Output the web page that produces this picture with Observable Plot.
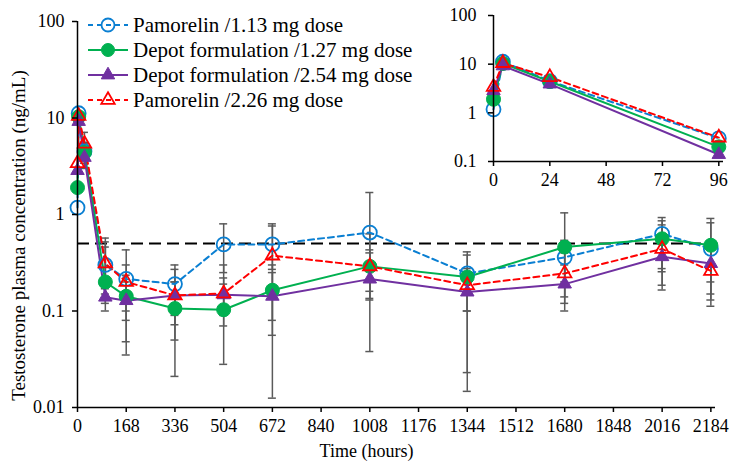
<!DOCTYPE html>
<html><head><meta charset="utf-8">
<script src="https://cdn.jsdelivr.net/npm/d3@7"></script>
<script src="https://cdn.jsdelivr.net/npm/@observablehq/plot@0.6"></script>
<style>
body{margin:0;background:#fff;}
#wrap{position:relative;width:736px;height:470px;font-family:"Liberation Serif","Times New Roman",serif;}
#wrap > svg{position:absolute;}
</style></head><body><div id="wrap"></div>
<script>
// ---- data ----
const times = [0, 4, 24, 96, 168, 336, 504, 672, 1008, 1344, 1680, 2016, 2184];
const pam113   = [1.18, 11.2, 4.5, 0.30, 0.215, 0.19, 0.49, 0.49, 0.65, 0.245, 0.36, 0.63, 0.44];
const depot127 = [1.9, 10.3, 4.4, 0.20, 0.142, 0.106, 0.103, 0.164, 0.29, 0.225, 0.46, 0.56, 0.48];
const depot254 = [2.85, 9.2, 3.9, 0.139, 0.128, 0.145, 0.147, 0.142, 0.214, 0.157, 0.19, 0.365, 0.31];
const pam226   = [3.4, 10.5, 5.4, 0.31, 0.20, 0.145, 0.152, 0.375, 0.29, 0.185, 0.245, 0.44, 0.26];

const errTimes = [24, 96, 168, 336, 504, 672, 1008, 1344, 1680, 2016, 2184];
const pam113Lo   = [3.6, 0.15, 0.035, 0.021, 0.25, 0.27, 0.135, 0.10, 0.20, 0.275, 0.20];
const pam113Hi   = [5.6, 0.57, 0.43, 0.30, 0.80, 0.80, 1.69, 0.41, 0.54, 0.93, 0.82];
const depot127Lo = [3.4, 0.12, 0.048, 0.05, 0.028, 0.0125, 0.038, 0.0147, 0.10, 0.165, 0.112];
const depot127Hi = [5.4, 0.46, 0.235, 0.20, 0.19, 0.30, 0.40, 0.38, 1.04, 0.86, 0.91];
const depot254Lo = [3.0, 0.10, 0.08, 0.09, 0.09, 0.08, 0.13, 0.10, 0.12, 0.255, 0.15];
const depot254Hi = [4.8, 0.20, 0.20, 0.20, 0.22, 0.25, 0.63, 0.25, 0.30, 0.60, 0.50];
const pam226Lo   = [4.2, 0.17, 0.10, 0.072, 0.07, 0.056, 0.16, 0.023, 0.14, 0.185, 0.13];
const pam226Hi   = [7.1, 0.52, 0.30, 0.27, 0.30, 0.76, 0.43, 0.275, 0.40, 0.78, 0.50];

const seriesNames = ["Pamorelin /1.13 mg dose", "Depot formulation /1.27 mg dose", "Depot formulation /2.54 mg dose", "Pamorelin /2.26 mg dose"];
const seriesValues = [pam113, depot127, depot254, pam226];
const seriesLo = [pam113Lo, depot127Lo, depot254Lo, pam226Lo];
const seriesHi = [pam113Hi, depot127Hi, depot254Hi, pam226Hi];
const seriesColors = ["#0a7fd2", "#00b050", "#7030a0", "#ff0000"];
const seriesDash = ["6,4", null, null, "6,4"];
const seriesSymbol = ["circle", "circle", "triangle", "triangle"];
const seriesFilled = [false, true, true, false];

const xTicks = [0, 168, 336, 504, 672, 840, 1008, 1176, 1344, 1512, 1680, 1848, 2016, 2184];
const yTicks = [0.01, 0.1, 1, 10, 100];
const insetXTicks = [0, 24, 48, 72, 96];
const insetYTicks = [0.1, 1, 10, 100];
const insetMaxTime = 96;
const refLevel = 0.5;
const xTitle = "Time (hours)";
const yTitle = "Testosterone plasma concentration (ng/mL)";

// ---- build tables ----
const rows = seriesValues.flatMap((vals, s) => times.map((t, i) => ({s, t, v: vals[i]})));
const errRows = seriesValues.flatMap((_, s) => errTimes.map((t, i) => ({s, t, lo: seriesLo[s][i], hi: seriesHi[s][i]})));

function seriesMarks(data, rDot, rTri) {
  const marks = [];
  seriesNames.forEach((_, s) => {
    const d = data.filter(r => r.s === s);
    marks.push(Plot.line(d, {x: "t", y: "v", stroke: seriesColors[s], strokeWidth: 2, strokeDasharray: seriesDash[s] ?? undefined}));
  });
  seriesNames.forEach((_, s) => {
    const d = data.filter(r => r.s === s);
    const tri = seriesSymbol[s] === "triangle";
    marks.push(Plot.dot(d, {x: "t", y: "v", symbol: seriesSymbol[s], r: tri ? rTri : rDot,
      fill: seriesFilled[s] ? seriesColors[s] : "none", stroke: seriesColors[s], strokeWidth: seriesFilled[s] ? 1 : 1.8}));
  });
  return marks;
}

const font = '"Liberation Serif","Times New Roman",serif';

const main = Plot.plot({
  width: 736, height: 470,
  marginLeft: 77, marginRight: 21, marginTop: 21, marginBottom: 63,
  style: {fontFamily: font, fontSize: "18px", color: "#000", background: "transparent", overflow: "visible"},
  x: {domain: [0, 2200]},
  y: {type: "log", domain: [0.01, 100]},
  marks: [
    Plot.ruleY([refLevel], {stroke: "#000", strokeWidth: 2, strokeDasharray: "12,6"}),
    Plot.ruleX(errRows, {x: "t", y1: "lo", y2: "hi", stroke: "#5a5a5a", strokeWidth: 1.5}),
    Plot.ruleY(errRows, {y: "lo", x1: "t", x2: "t", insetLeft: -4, insetRight: -4, stroke: "#5a5a5a", strokeWidth: 1.5}),
    Plot.ruleY(errRows, {y: "hi", x1: "t", x2: "t", insetLeft: -4, insetRight: -4, stroke: "#5a5a5a", strokeWidth: 1.5}),
    ...seriesMarks(rows, 7, 5),
    Plot.ruleX([0], {stroke: "#000", strokeWidth: 1.5}),
    Plot.ruleY([0.01], {stroke: "#000", strokeWidth: 1.5}),
    Plot.axisX({ticks: xTicks, tickFormat: d => String(d), tickSize: 5, tickPadding: 7, strokeWidth: 1.5, label: null, fontSize: 18}),
    Plot.axisY({ticks: yTicks, tickFormat: d => String(d), tickSize: 5, tickPadding: 8, strokeWidth: 1.5, label: null, fontSize: 18}),
    Plot.text([xTitle], {frameAnchor: "bottom", textAnchor: "middle", lineAnchor: "middle", dy: 44, dx: -30, fontSize: 18, fill: "#000"}),
    Plot.text([yTitle], {frameAnchor: "left", textAnchor: "middle", lineAnchor: "middle", rotate: -90, dx: -59, dy: 21, fontSize: 19, fill: "#000"})
  ]
});

const inset = Plot.plot({
  width: 296, height: 200,
  marginLeft: 53, marginRight: 13, marginTop: 15, marginBottom: 39,
  style: {fontFamily: font, fontSize: "18px", color: "#000", background: "transparent", overflow: "visible"},
  x: {domain: [0, 98]},
  y: {type: "log", domain: [0.1, 100]},
  marks: [
    ...seriesMarks(rows.filter(r => r.t <= insetMaxTime), 7, 5),
    Plot.ruleX([0], {stroke: "#000", strokeWidth: 1.5}),
    Plot.ruleY([0.1], {stroke: "#000", strokeWidth: 1.5}),
    Plot.axisX({ticks: insetXTicks, tickFormat: d => String(d), tickSize: 5, tickPadding: 7, strokeWidth: 1.5, label: null, fontSize: 18}),
    Plot.axisY({ticks: insetYTicks, tickFormat: d => String(d), tickSize: 5, tickPadding: 12, strokeWidth: 1.5, label: null, fontSize: 18})
  ]
});

const wrap = document.getElementById("wrap");
main.style.left = "0px"; main.style.top = "0px";
inset.style.left = "440px"; inset.style.top = "0px";
wrap.appendChild(main);
wrap.appendChild(inset);

// ---- legend ----
const leg = d3.select(wrap).append("svg")
  .attr("width", 370).attr("height", 115)
  .style("left", "80px").style("top", "5px");
const rowH = 25;
seriesNames.forEach((name, s) => {
  const g = leg.append("g").attr("transform", `translate(0,${20 + s * rowH})`);
  g.append("line").attr("x1", 8).attr("x2", 48).attr("y1", 0).attr("y2", 0)
    .attr("stroke", seriesColors[s]).attr("stroke-width", 2)
    .attr("stroke-dasharray", seriesDash[s] ? "5,4" : null);
  const tri = seriesSymbol[s] === "triangle";
  const r = tri ? 5 : 6.5;
  const sym = d3.symbol(tri ? d3.symbolTriangle : d3.symbolCircle, Math.PI * r * r);
  g.append("path").attr("d", sym()).attr("transform", "translate(28,0)")
    .attr("fill", seriesFilled[s] ? seriesColors[s] : "none")
    .attr("stroke", seriesColors[s]).attr("stroke-width", seriesFilled[s] ? 1 : 1.8);
  g.append("text").attr("x", 53).attr("y", 0).attr("dy", "0.35em")
    .attr("font-family", font).attr("font-size", 21).attr("fill", "#000").text(name);
});
</script>
</body></html>
